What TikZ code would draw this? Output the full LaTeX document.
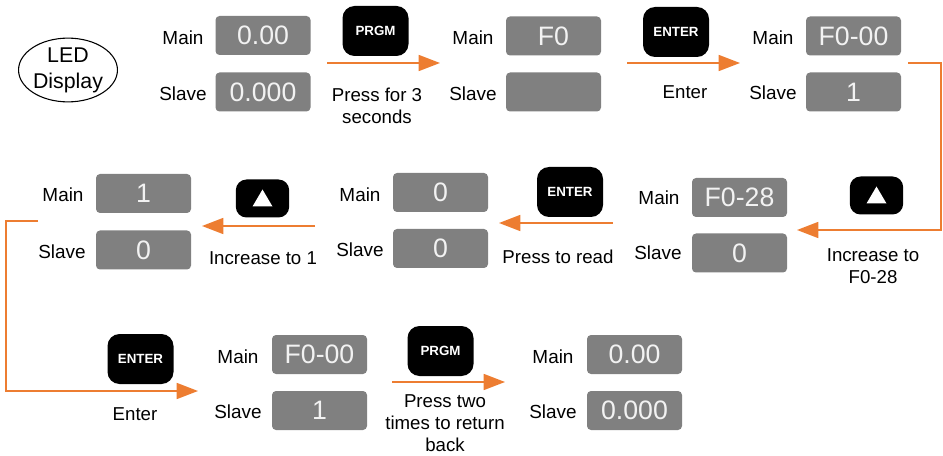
\documentclass[tikz,border=0pt]{standalone}
\usepackage{fontspec}
\setmainfont{Liberation Sans}
\usetikzlibrary{arrows.meta,calc,shapes.geometric}
\definecolor{boxgray}{RGB}{128,128,128}
\definecolor{valtext}{RGB}{242,242,242}
\definecolor{flow}{RGB}{237,125,49}
\tikzset{
  valbox/.style={fill=boxgray, rounded corners=3pt, minimum width=71.25pt, minimum height=29.25pt, inner sep=0pt, text=valtext, font=\fontsize{20}{24}\selectfont},
  lbl/.style={inner sep=0pt, font=\fontsize{14.2}{17}\selectfont},
  note/.style={inner sep=0pt, align=center, font=\fontsize{14}{16.5}\selectfont},
  keybox/.style={fill=black, rounded corners=9pt, minimum width=49.5pt, minimum height=37.5pt, inner sep=0pt, text=white, font=\fontsize{10}{12}\selectfont\bfseries},
  upkey/.style={fill=black, rounded corners=8pt, minimum width=40pt, minimum height=28.5pt, inner sep=0pt},
  flowline/.style={draw=flow, line width=1.2pt},
  flowarrow/.style={flowline, -{Triangle[length=16pt,width=12pt]}},
}
\begin{document}
\begin{tikzpicture}[x=0.75pt,y=-0.75pt]
\useasboundingbox (0,0) rectangle (943,456);
% LED display
\node[draw, ellipse, line width=0.8pt, minimum width=70.5pt, minimum height=46.5pt, inner sep=0pt, align=center, font=\fontsize{16}{19.5}\selectfont] (led) at (68,70) {LED\\Display};
% Row 1, state A
\node[valbox] (a1) at (263,35.5) {0.00};
\node[valbox] (a2) at (263,92) {0.000};
\node[lbl] (a1l) at (183,38) {Main};
\node[lbl] (a2l) at (183,94) {Slave};
\node[keybox] (k1) at (375.5,31) {PRGM};
\coordinate (p1s) at (327,63);
\coordinate (p1e) at (440,63);
\draw[flowarrow] (p1s) -- (p1e);
\node[note] (t1) at (377,106) {Press for 3\\seconds};
% state B
\node[valbox] (b1) at (553.5,36) {F0};
\node[valbox] (b2) at (553.5,92) {};
\node[lbl] (b1l) at (473,38) {Main};
\node[lbl] (b2l) at (473,94) {Slave};
\node[keybox] (k2) at (676,32) {ENTER};
\coordinate (p2s) at (627,63);
\coordinate (p2e) at (740,63);
\draw[flowarrow] (p2s) -- (p2e);
\node[note] (t2) at (685,92) {Enter};
% state C
\node[valbox] (c1) at (853.5,36) {F0-00};
\node[valbox] (c2) at (853.5,92) {1};
\node[lbl] (c1l) at (773,38) {Main};
\node[lbl] (c2l) at (773,93) {Slave};
\coordinate (p3s) at (908,63);
\coordinate (p3a) at (941,63);
\coordinate (p3b) at (941,230);
\coordinate (p3e) at (797,230);
\draw[flowarrow] (p3s) -- (p3a) -- (p3b) -- (p3e);
\node[upkey] (k3) at (876.5,195.5) {};
\fill[white] ($(k3.center)+(-10,8)$) -- ($(k3.center)+(10,8)$) -- ($(k3.center)+(0,-9)$) -- cycle;
\node[note] (t3) at (873,266) {Increase to\\F0-28};
% Row 2, state D
\node[valbox] (d1) at (739.5,197.5) {F0-28};
\node[valbox] (d2) at (739.5,253) {0};
\node[lbl] (d1l) at (659,198) {Main};
\node[lbl] (d2l) at (658,253) {Slave};
\node[keybox] (k4) at (570,192) {ENTER};
\coordinate (p4s) at (613,223);
\coordinate (p4e) at (499,223);
\draw[flowarrow] (p4s) -- (p4e);
\node[note] (t4) at (558,257) {Press to read};
% state E
\node[valbox] (e1) at (440.5,192.5) {0};
\node[valbox] (e2) at (440.5,248.5) {0};
\node[lbl] (e1l) at (360,195) {Main};
\node[lbl] (e2l) at (360,250) {Slave};
\node[upkey] (k5) at (262.5,198.5) {};
\fill[white] ($(k5.center)+(-10,8)$) -- ($(k5.center)+(10,8)$) -- ($(k5.center)+(0,-9)$) -- cycle;
\coordinate (p5s) at (315,226);
\coordinate (p5e) at (202,226);
\draw[flowarrow] (p5s) -- (p5e);
\node[note] (t5) at (263,258) {Increase to 1};
% state F
\node[valbox] (f1) at (143.5,193.5) {1};
\node[valbox] (f2) at (143.5,250) {0};
\node[lbl] (f1l) at (63,195) {Main};
\node[lbl] (f2l) at (62,252) {Slave};
\coordinate (p6s) at (38,221);
\coordinate (p6a) at (6,221);
\coordinate (p6b) at (6,391);
\coordinate (p6e) at (198,391);
\draw[flowarrow] (p6s) -- (p6a) -- (p6b) -- (p6e);
\node[keybox] (k6) at (140.5,359) {ENTER};
\node[note] (t6) at (135,414) {Enter};
% Row 3, state G
\node[valbox] (g1) at (319.5,354.5) {F0-00};
\node[valbox] (g2) at (319.5,410.5) {1};
\node[lbl] (g1l) at (238,357) {Main};
\node[lbl] (g2l) at (238,412) {Slave};
\node[keybox] (k7) at (440.5,351) {PRGM};
\coordinate (p7s) at (392,382);
\coordinate (p7e) at (505,382);
\draw[flowarrow] (p7s) -- (p7e);
\node[note] (t7) at (445,423) {Press two\\times to return\\back};
% state H
\node[valbox] (h1) at (634.5,354.5) {0.00};
\node[valbox] (h2) at (634.5,410.5) {0.000};
\node[lbl] (h1l) at (553,357) {Main};
\node[lbl] (h2l) at (553,412) {Slave};
\end{tikzpicture}
\end{document}
